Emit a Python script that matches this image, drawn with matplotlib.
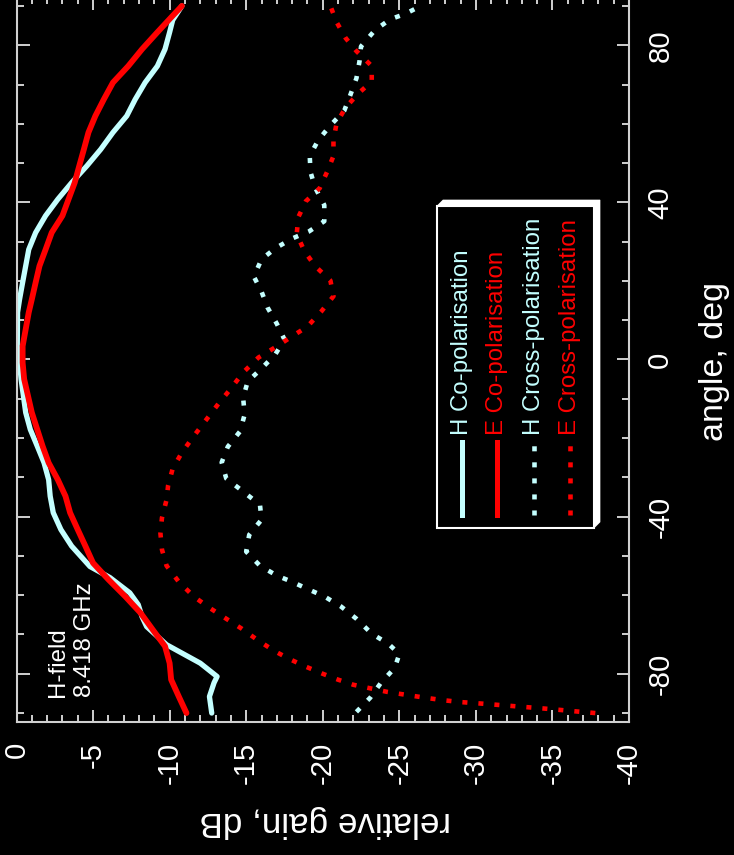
import matplotlib
matplotlib.use('Agg')
import matplotlib.pyplot as plt
from matplotlib.lines import Line2D
from matplotlib.patches import Rectangle, Polygon

# ---------------- data ----------------
h_co_angle = [-90, -85.8, -82.3, -80.7, -77.3, -72.6, -68.0, -65.5, -62.4, -59.4, -55.5, -52.7,
              -47.5, -43.3, -39, -34.8, -30.6, -26.3, -22, -17.8, -13.5, -5, -0.8, 3.4, 12,
              15.3, 19.6, 23.8, 28, 32.3, 36.6, 40.8, 45, 49.3, 53.5, 57.8, 62, 66.2, 70.5,
              74.7, 79, 83.3, 86.4, 90]
h_co_gain = [-12.75, -12.6, -12.9, -13.1, -12.0, -9.8, -8.5, -8.2, -7.95, -7.4, -6.1, -4.8,
             -3.6, -2.9, -2.4, -2.2, -2.1, -1.8, -1.35, -0.9, -0.6, -0.3, -0.2, -0.05, -0.07,
             -0.2, -0.4, -0.6, -0.8, -1.25, -1.9, -2.7, -3.6, -4.6, -5.5, -6.3, -7.2, -7.75, -8.4,
             -9.2, -9.7, -10.0, -10.2, -10.8]

e_co_angle = [-90, -85.8, -81.5, -77.3, -73, -68.8, -64.5, -60.3, -56, -51.8, -47.5, -43.3, -39,
              -34.8, -30.6, -26.3, -22, -13.5, -5, -0.8, 3.4, 12, 15.3, 19.6, 23.8, 28, 32.3,
              36.6, 40.8, 45, 49.3, 53.5, 57.8, 62, 66.2, 70.5, 74.7, 79, 83.3, 87.5, 90]
e_co_gain = [-11.1, -10.6, -10.1, -10.0, -9.7, -8.9, -8.1, -7.1, -6.0, -5.0, -4.5, -4.0, -3.5,
             -3.2, -2.7, -2.1, -1.7, -1.0, -0.5, -0.4, -0.4, -0.8, -1.0, -1.25, -1.5, -1.9, -2.3,
             -3.0, -3.4, -3.8, -4.1, -4.4, -4.7, -5.15, -5.7, -6.3, -7.3, -8.2, -9.2, -10.2, -10.8]

h_x_angle = [-89.7, -86.1, -82.3, -78.5, -75, -72.4, -69.8, -66, -62.9, -60.3, -58.4, -56.6, -55,
             -52.5, -48.9, -44.6, -40.8, -37, -33.6, -30.3, -26.2, -22.2, -18.3, -14, -9.7, -5.6,
             -2.3, 1.3, 5.1, 9.1, 13.2, 17.3, 21.1, 25.5, 28.3, 30.8, 32.6, 35.2, 39.3, 43.8,
             47.7, 51.8, 55.8, 59.6, 63.3, 67.3, 71.6, 75.9, 79.7, 83.8, 86.6, 88, 90]
h_x_gain = [-22.2, -23.1, -23.8, -24.7, -25.0, -24.3, -23.2, -22.2, -21.2, -20.1, -19.0, -18.0, -17.0,
            -15.9, -15.0, -15.2, -16.0, -15.9, -14.8, -13.7, -13.4, -13.8, -14.6, -14.9, -14.8, -15.1,
            -16.0, -16.9, -17.5, -17.0, -16.4, -16.0, -15.5, -16.0, -16.9, -18.0, -19.1, -20.1, -20.1, -19.5,
            -19.2, -19.15, -19.7, -20.5, -21.4, -21.8, -22.2, -22.4, -22.5, -23.4, -24.4, -25.4, -26.4]

e_x_angle = [-90, -89.6, -89.2, -88.8, -88.4, -88.0, -87.6, -87.2, -86.7, -86.1, -85.4, -84.6, -83.7,
             -82.8, -81.5, -80, -78.2, -76.2, -74.1, -71.3, -68.5, -66, -63.2, -60.4, -56.6, -52.5,
             -48.4, -44.3, -40.3, -35.7, -32.1, -27.8, -23.7, -19.9, -15.8, -11.2, -7.4, -3.3, 0.5,
             3.1, 5.9, 8.4, 12.2, 16.1, 20.1, 23.8, 27.6, 31.9, 36.2, 40.3, 43.6, 47.9, 51.8, 55.8,
             60.1, 64.2, 67.8, 70.8, 74.7, 78.5, 81.8, 85.9, 90]
e_x_gain = [-37.8, -36.6, -35.5, -34.3, -33.0, -31.7, -30.4, -29.0, -27.8, -26.7, -25.5, -24.2, -23.1,
            -22.0, -21.0, -20.0, -18.9, -17.8, -16.8, -15.7, -14.7, -13.7, -12.6, -11.6, -10.6, -9.8,
            -9.5, -9.4, -9.5, -9.8, -9.9, -10.2, -10.8, -11.5, -12.3, -13.2, -14.0, -14.8, -15.8,
            -16.9, -18.0, -19.0, -19.9, -20.7, -20.5, -19.5, -18.8, -18.3, -18.4, -18.9, -19.8, -20.3, -20.7, -20.7,
            -20.9, -21.5, -22.35, -23.2, -23.2, -22.2, -21.5, -20.9, -20.5]

gain_ticks = [0, -5, -10, -15, -20, -25, -30, -35, -40]
gain_labels = ['0', '-5', '-10', '-15', '-20', '-25', '-30', '-35', '-40']
angle_ticks = [-80, -40, 0, 40, 80]
angle_labels = ['-80', '-40', '0', '40', '80']

legend_labels = ['H Co-polarisation', 'E Co-polarisation', 'H Cross-polarisation', 'E Cross-polarisation']

# ---------------- style ----------------
W, H = 734, 855
CYAN = '#c4ffff'
RED = '#ff0000'
SPINE = '#d0d0d0'
SANS = ['Liberation Sans', 'DejaVu Sans']
NARROW = ['Liberation Sans Narrow', 'Liberation Sans', 'DejaVu Sans']
DOTS = (1.1, 2.4)

fig = plt.figure(figsize=(W / 100, H / 100), dpi=100, facecolor='black')


def fx(x):
    return x / W


def fy(y):
    return 1 - y / H


ax = fig.add_axes([fx(16.5), fy(721.7), 612.5 / W, 724.4 / H])
ax.set_facecolor('black')

ax.plot(h_co_gain, h_co_angle, color=CYAN, lw=3.8, solid_capstyle='round', solid_joinstyle='round')
ax.plot(e_co_gain, e_co_angle, color=RED, lw=4.2, solid_capstyle='round', solid_joinstyle='round')
ax.plot(h_x_gain, h_x_angle, color=CYAN, lw=3.3, dashes=DOTS)
ax.plot(e_x_gain, e_x_angle, color=RED, lw=3.3, dashes=DOTS)

ax.set_xlim(0, -40)
ax.set_ylim(-92.2, 92.2)

ax.set_xticks(gain_ticks, gain_labels)
ax.set_xticks(range(0, -41, -1), minor=True)
ax.set_yticks(angle_ticks, angle_labels)
ax.set_yticks(range(-90, 91, 10), minor=True)

for s in ax.spines.values():
    s.set_color(SPINE)
    s.set_linewidth(1.5)

ax.tick_params(which='both', direction='in', top=True, bottom=True, left=True, right=True,
               color=SPINE, width=1.4, labelcolor='white', labelsize=21.2)
ax.tick_params(which='major', length=9)
ax.tick_params(which='minor', length=5)
ax.tick_params(axis='x', labelbottom=True, labeltop=False, pad=14.5)
ax.tick_params(axis='y', labelleft=False, labelright=True, pad=12.5)

for lbl in ax.get_xticklabels():
    lbl.set_rotation(90)
    lbl.set_ha('center')
    lbl.set_va('top')
    lbl.set_fontfamily(NARROW)
for lbl in ax.get_yticklabels():
    lbl.set_rotation(90)
    lbl.set_ha('left')
    lbl.set_va('center')
    lbl.set_fontfamily(NARROW)

# axis titles
fig.text(fx(325), fy(821), 'relative gain, dB', rotation=180, ha='center', va='center',
         color='white', fontsize=25.2, family=SANS)
fig.text(fx(714), fy(361), 'angle, deg', rotation=90, ha='center', va='center',
         color='white', fontsize=24.5, family=SANS)

# annotation
fig.text(fx(57.5), fy(697), 'H-field', rotation=90, rotation_mode='anchor', ha='left', va='center',
         color='white', fontsize=17.3, family=SANS)
fig.text(fx(85), fy(697), '8.418 GHz', rotation=90, rotation_mode='anchor', ha='left', va='center',
         color='white', fontsize=17.3, family=SANS)

# legend (rotated, drawn by hand)
shadow = Polygon([(fx(437), fy(206)), (fx(443), fy(200)), (fx(600), fy(200)), (fx(600), fy(522)),
                  (fx(594), fy(528)), (fx(594), fy(206))], closed=True, transform=fig.transFigure,
                 facecolor='white', edgecolor='white', lw=0.5)
fig.add_artist(shadow)
frame = Rectangle((fx(437), fy(528)), (594 - 437) / W, (528 - 206) / H, transform=fig.transFigure,
                  facecolor='black', edgecolor='white', lw=1.5)
fig.add_artist(frame)

leg_x = [462, 497, 534, 570]
leg_colors = [CYAN, RED, CYAN, RED]
leg_dotted = [False, False, True, True]
for x, lab, col, dotted in zip(leg_x, legend_labels, leg_colors, leg_dotted):
    if dotted:
        ln = Line2D([fx(x), fx(x)], [fy(515), fy(442)], transform=fig.transFigure, color=col,
                    lw=3.3, dashes=DOTS)
    else:
        ln = Line2D([fx(x), fx(x)], [fy(515), fy(442)], transform=fig.transFigure, color=col,
                    lw=3.6)
    fig.add_artist(ln)
    fig.text(fx(x), fy(435), lab, rotation=90, rotation_mode='anchor', ha='left', va='center',
             color=col, fontsize=17.3, family=SANS)

fig.savefig('out.png', dpi=100, facecolor='black')
